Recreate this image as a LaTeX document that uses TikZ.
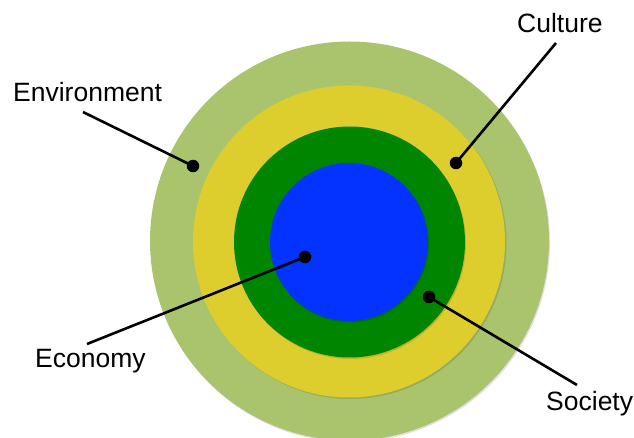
\documentclass[tikz,border=0pt]{standalone}
\usepackage{fontspec}
\setmainfont{Liberation Sans}
\definecolor{outerc}{RGB}{170,196,110}
\definecolor{yellowc}{RGB}{221,206,46}
\definecolor{greenc}{RGB}{0,133,0}
\definecolor{bluec}{RGB}{4,50,255}
\tikzset{
  dotmark/.style={circle, fill=black, inner sep=0pt, minimum size=12.5pt},
  leader/.style={line width=2.6pt, black},
  lbl/.style={anchor=base west, inner sep=0pt, font=\fontsize{26.5}{30}\selectfont},
  shade/.style={fill=black, opacity=0.12}
}
\begin{document}
\begin{tikzpicture}[x=1pt,y=-1pt]
\useasboundingbox (0,0) rectangle (634,438);
% shadows and rings
\fill[shade] (350.5,242.5) circle (199.5);
\fill[outerc] (349.5,241) circle (199.5);
\fill[shade] (350.5,243) circle (156);
\fill[yellowc] (349,241.5) circle (156);
\fill[shade] (350.5,243.5) circle (115.5);
\fill[greenc] (349.5,242) circle (115.5);
\fill[shade] (350,243.5) circle (79);
\fill[bluec] (349,242) circle (79);
% labels
\node[lbl] (env) at (13,102) {Environment};
\node[lbl] (cul) at (517,33) {Culture};
\node[lbl] (eco) at (35,367) {Economy};
\node[lbl] (soc) at (546,410) {Society};
% leader ends
\coordinate (envE) at (83,112);
\coordinate (culE) at (556,43);
\coordinate (ecoE) at (87,344);
\coordinate (socE) at (577,385);
% dots
\node[dotmark] (envD) at (193,166) {};
\node[dotmark] (culD) at (456,163) {};
\node[dotmark] (ecoD) at (305,257) {};
\node[dotmark] (socD) at (429,297) {};
% leaders
\draw[leader] (envE) -- (envD.center);
\draw[leader] (culE) -- (culD.center);
\draw[leader] (ecoE) -- (ecoD.center);
\draw[leader] (socE) -- (socD.center);
\end{tikzpicture}
\end{document}
